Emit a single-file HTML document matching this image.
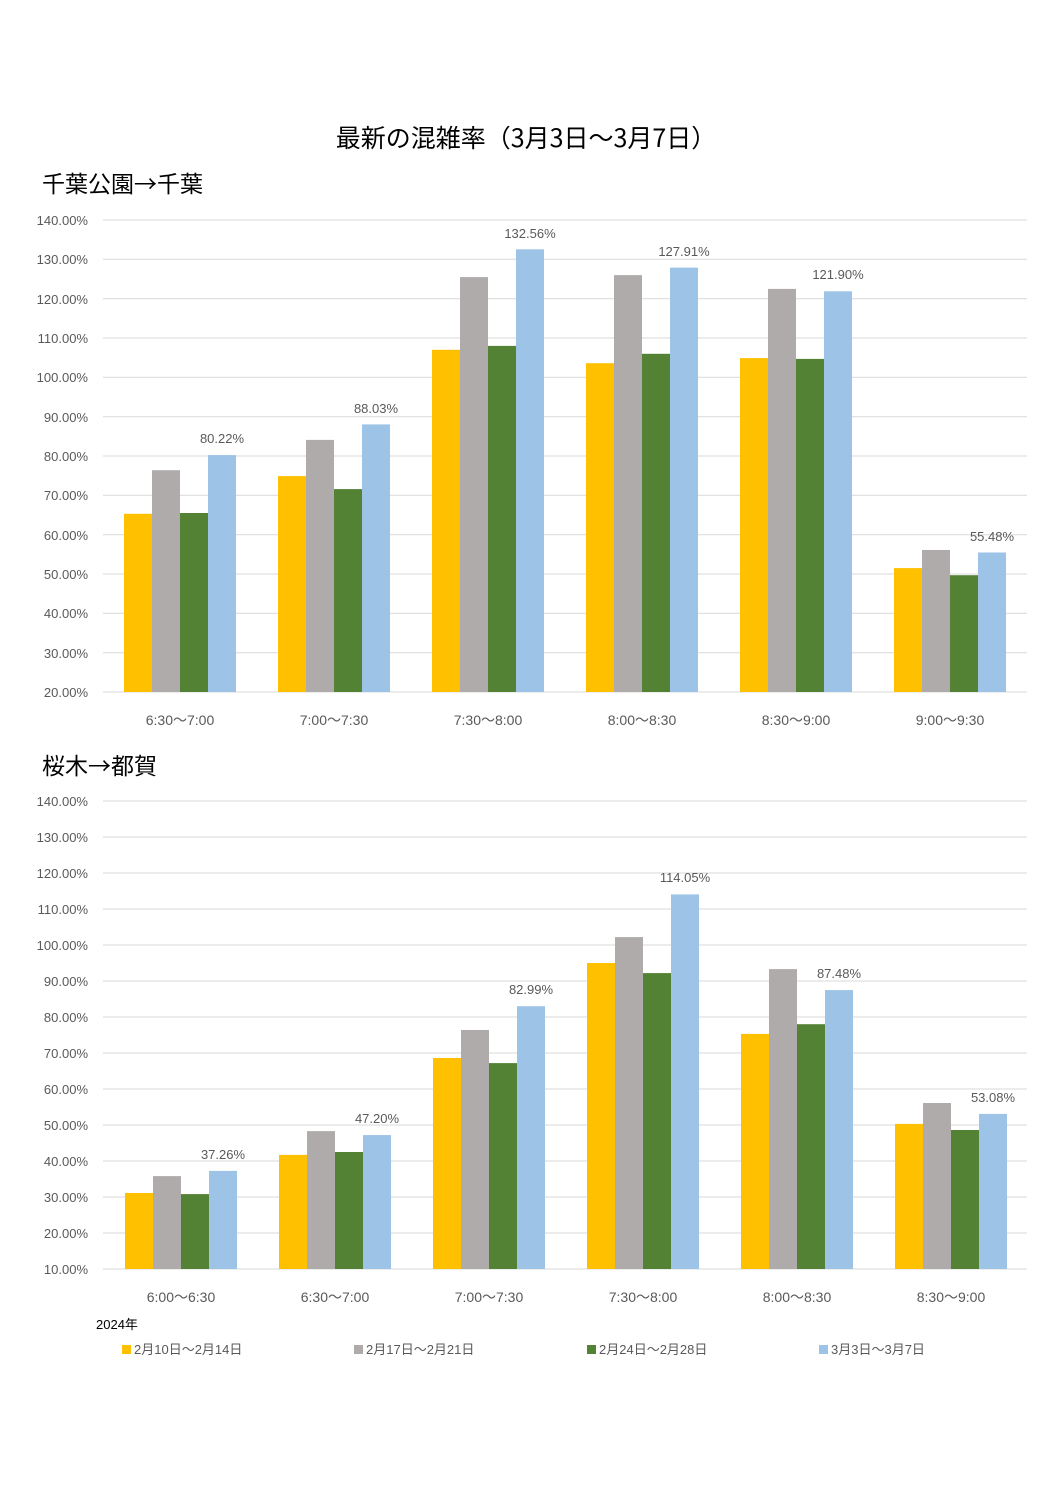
<!DOCTYPE html>
<html><head><meta charset="utf-8"><style>
html,body{margin:0;padding:0;background:#fff}
svg{display:block}
text{font-family:"Liberation Sans","Noto Sans CJK JP",sans-serif}
.h{font-family:"Noto Sans CJK JP","Liberation Sans",sans-serif}
.t{font-size:13px;fill:#595959}
.c{font-size:14px;fill:#595959}
.g{stroke:#d9d9d9;stroke-width:1}
</style></head><body>
<svg width="1058" height="1496" viewBox="0 0 1058 1496" xmlns="http://www.w3.org/2000/svg">
<text class="h" x="526" y="147" font-size="25" text-anchor="middle" fill="#000">最新の混雑率（3月3日～3月7日）</text>
<text class="h" x="42" y="192" font-size="23" fill="#000">千葉公園→千葉</text>
<text class="h" x="42" y="774" font-size="23" fill="#000">桜木→都賀</text>

<g class="g">
<line x1="103" x2="1027" y1="220" y2="220"/><line x1="103" x2="1027" y1="259.3" y2="259.3"/><line x1="103" x2="1027" y1="298.7" y2="298.7"/><line x1="103" x2="1027" y1="338" y2="338"/><line x1="103" x2="1027" y1="377.3" y2="377.3"/><line x1="103" x2="1027" y1="416.7" y2="416.7"/><line x1="103" x2="1027" y1="456" y2="456"/><line x1="103" x2="1027" y1="495.3" y2="495.3"/><line x1="103" x2="1027" y1="534.7" y2="534.7"/><line x1="103" x2="1027" y1="574" y2="574"/><line x1="103" x2="1027" y1="613.3" y2="613.3"/><line x1="103" x2="1027" y1="652.7" y2="652.7"/><line x1="103" x2="1027" y1="692" y2="692"/>
</g>
<g class="t" text-anchor="end">
<text x="88" y="225">140.00%</text><text x="88" y="264">130.00%</text><text x="88" y="304">120.00%</text><text x="88" y="343">110.00%</text><text x="88" y="382">100.00%</text><text x="88" y="422">90.00%</text><text x="88" y="461">80.00%</text><text x="88" y="500">70.00%</text><text x="88" y="540">60.00%</text><text x="88" y="579">50.00%</text><text x="88" y="618">40.00%</text><text x="88" y="658">30.00%</text><text x="88" y="697">20.00%</text>
</g>
<g>
<rect x="124" y="513.8" width="28" height="178.2" fill="#FFC000"/><rect x="152" y="470.2" width="28" height="221.8" fill="#AFABAB"/><rect x="180" y="513" width="28" height="179" fill="#548235"/><rect x="208" y="455.1" width="28" height="236.9" fill="#9DC3E6"/>
<rect x="278" y="476.1" width="28" height="215.9" fill="#FFC000"/><rect x="306" y="439.9" width="28" height="252.1" fill="#AFABAB"/><rect x="334" y="489.1" width="28" height="202.9" fill="#548235"/><rect x="362" y="424.4" width="28" height="267.6" fill="#9DC3E6"/>
<rect x="432" y="349.8" width="28" height="342.2" fill="#FFC000"/><rect x="460" y="277.1" width="28" height="414.9" fill="#AFABAB"/><rect x="488" y="345.9" width="28" height="346.1" fill="#548235"/><rect x="516" y="249.3" width="28" height="442.7" fill="#9DC3E6"/>
<rect x="586" y="363.2" width="28" height="328.8" fill="#FFC000"/><rect x="614" y="275.1" width="28" height="416.9" fill="#AFABAB"/><rect x="642" y="353.8" width="28" height="338.2" fill="#548235"/><rect x="670" y="267.6" width="28" height="424.4" fill="#9DC3E6"/>
<rect x="740" y="358.1" width="28" height="333.9" fill="#FFC000"/><rect x="768" y="288.9" width="28" height="403.1" fill="#AFABAB"/><rect x="796" y="358.9" width="28" height="333.1" fill="#548235"/><rect x="824" y="291.3" width="28" height="400.7" fill="#9DC3E6"/>
<rect x="894" y="568.1" width="28" height="123.9" fill="#FFC000"/><rect x="922" y="550" width="28" height="142" fill="#AFABAB"/><rect x="950" y="575.2" width="28" height="116.8" fill="#548235"/><rect x="978" y="552.5" width="28" height="139.5" fill="#9DC3E6"/>
</g>
<g class="t" text-anchor="middle">
<text x="222" y="443">80.22%</text><text x="376" y="413">88.03%</text><text x="530" y="238">132.56%</text><text x="684" y="256">127.91%</text><text x="838" y="279">121.90%</text><text x="992" y="541">55.48%</text>
</g>
<g class="c" text-anchor="middle">
<text x="180" y="725">6:30～7:00</text><text x="334" y="725">7:00～7:30</text><text x="488" y="725">7:30～8:00</text><text x="642" y="725">8:00～8:30</text><text x="796" y="725">8:30～9:00</text><text x="950" y="725">9:00～9:30</text>
</g>

<g class="g">
<line x1="103" x2="1027" y1="801" y2="801"/><line x1="103" x2="1027" y1="837" y2="837"/><line x1="103" x2="1027" y1="873" y2="873"/><line x1="103" x2="1027" y1="909" y2="909"/><line x1="103" x2="1027" y1="945" y2="945"/><line x1="103" x2="1027" y1="981" y2="981"/><line x1="103" x2="1027" y1="1017" y2="1017"/><line x1="103" x2="1027" y1="1053" y2="1053"/><line x1="103" x2="1027" y1="1089" y2="1089"/><line x1="103" x2="1027" y1="1125" y2="1125"/><line x1="103" x2="1027" y1="1161" y2="1161"/><line x1="103" x2="1027" y1="1197" y2="1197"/><line x1="103" x2="1027" y1="1233" y2="1233"/><line x1="103" x2="1027" y1="1269" y2="1269"/>
</g>
<g class="t" text-anchor="end">
<text x="88" y="806">140.00%</text><text x="88" y="842">130.00%</text><text x="88" y="878">120.00%</text><text x="88" y="914">110.00%</text><text x="88" y="950">100.00%</text><text x="88" y="986">90.00%</text><text x="88" y="1022">80.00%</text><text x="88" y="1058">70.00%</text><text x="88" y="1094">60.00%</text><text x="88" y="1130">50.00%</text><text x="88" y="1166">40.00%</text><text x="88" y="1202">30.00%</text><text x="88" y="1238">20.00%</text><text x="88" y="1274">10.00%</text>
</g>
<g>
<rect x="125" y="1193" width="28" height="76" fill="#FFC000"/><rect x="153" y="1176.1" width="28" height="92.9" fill="#AFABAB"/><rect x="181" y="1194.1" width="28" height="74.9" fill="#548235"/><rect x="209" y="1170.9" width="28" height="98.1" fill="#9DC3E6"/>
<rect x="279" y="1154.9" width="28" height="114.1" fill="#FFC000"/><rect x="307" y="1131.1" width="28" height="137.9" fill="#AFABAB"/><rect x="335" y="1152" width="28" height="117" fill="#548235"/><rect x="363" y="1135.1" width="28" height="133.9" fill="#9DC3E6"/>
<rect x="433" y="1058" width="28" height="211" fill="#FFC000"/><rect x="461" y="1030" width="28" height="239" fill="#AFABAB"/><rect x="489" y="1063.1" width="28" height="205.9" fill="#548235"/><rect x="517" y="1006.2" width="28" height="262.8" fill="#9DC3E6"/>
<rect x="587" y="963" width="28" height="306" fill="#FFC000"/><rect x="615" y="937.1" width="28" height="331.9" fill="#AFABAB"/><rect x="643" y="973.1" width="28" height="295.9" fill="#548235"/><rect x="671" y="894.4" width="28" height="374.6" fill="#9DC3E6"/>
<rect x="741" y="1033.9" width="28" height="235.1" fill="#FFC000"/><rect x="769" y="969.1" width="28" height="299.9" fill="#AFABAB"/><rect x="797" y="1024.2" width="28" height="244.8" fill="#548235"/><rect x="825" y="990.1" width="28" height="278.9" fill="#9DC3E6"/>
<rect x="895" y="1123.9" width="28" height="145.1" fill="#FFC000"/><rect x="923" y="1103" width="28" height="166" fill="#AFABAB"/><rect x="951" y="1130" width="28" height="139" fill="#548235"/><rect x="979" y="1113.9" width="28" height="155.1" fill="#9DC3E6"/>
</g>
<g class="t" text-anchor="middle">
<text x="223" y="1159">37.26%</text><text x="377" y="1123">47.20%</text><text x="531" y="994">82.99%</text><text x="685" y="882">114.05%</text><text x="839" y="978">87.48%</text><text x="993" y="1102">53.08%</text>
</g>
<g class="c" text-anchor="middle">
<text x="181" y="1302">6:00～6:30</text><text x="335" y="1302">6:30～7:00</text><text x="489" y="1302">7:00～7:30</text><text x="643" y="1302">7:30～8:00</text><text x="797" y="1302">8:00～8:30</text><text x="951" y="1302">8:30～9:00</text>
</g>

<text x="96" y="1329" font-size="13" fill="#000">2024年</text>
<g class="t">
<rect x="122" y="1345" width="9" height="9" fill="#FFC000"/><text x="134" y="1354">2月10日～2月14日</text>
<rect x="354" y="1345" width="9" height="9" fill="#AFABAB"/><text x="366" y="1354">2月17日～2月21日</text>
<rect x="587" y="1345" width="9" height="9" fill="#548235"/><text x="599" y="1354">2月24日～2月28日</text>
<rect x="819" y="1345" width="9" height="9" fill="#9DC3E6"/><text x="831" y="1354">3月3日～3月7日</text>
</g>
</svg>
</body></html>
